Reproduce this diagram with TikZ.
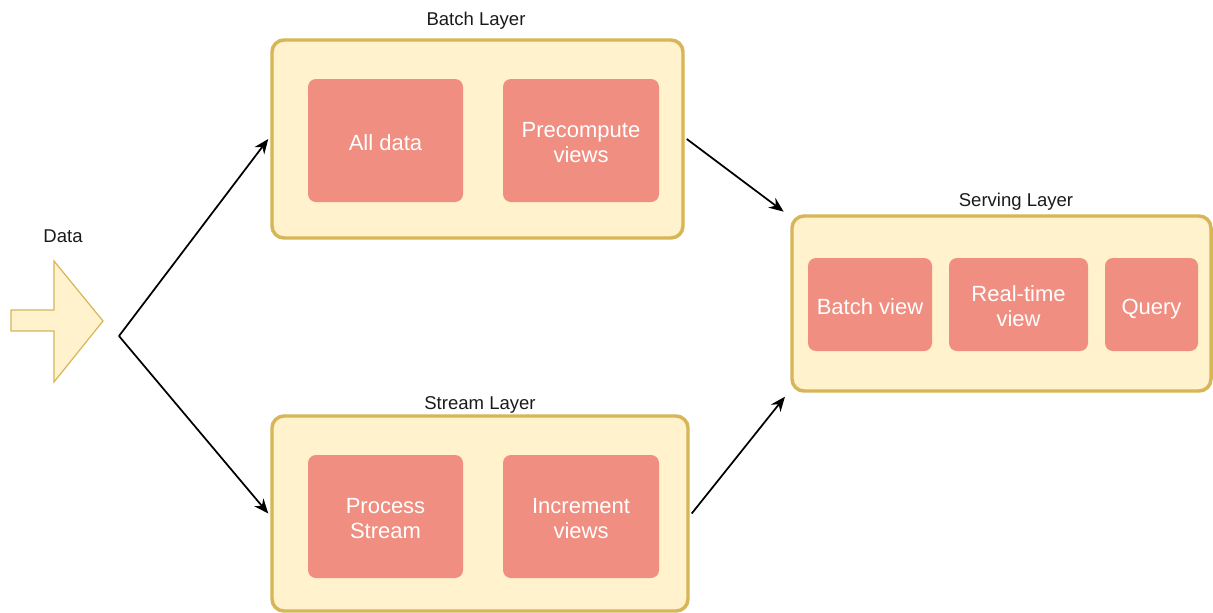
\documentclass[tikz,border=0pt]{standalone}
\usepackage{fontspec}
\setmainfont{Liberation Sans}
\usetikzlibrary{arrows.meta}
\definecolor{layerfill}{HTML}{FFF2CC}
\definecolor{layerdraw}{HTML}{D6B656}
\definecolor{itemfill}{HTML}{F08E81}
\definecolor{labeltxt}{HTML}{1A1A1A}
\newcommand\itemtext[1]{\raisebox{-3.6pt}[\height][\depth]{\begin{tabular}{@{}c@{}}#1\end{tabular}}}
\tikzset{
  layer/.style={draw=layerdraw, fill=layerfill, line width=2.6pt, rounded corners=9pt, inner sep=0pt},
  item/.style={fill=itemfill, rounded corners=6pt, text=white, inner sep=0pt,
    font=\fontsize{16.5pt}{18.5pt}\selectfont},
  lbl/.style={text=labeltxt, font=\fontsize{13.9pt}{16pt}\selectfont, inner sep=0pt},
  conn/.style={line width=1.3pt, -{Stealth[length=11pt, width=9pt]}},
}
\begin{document}
\begin{tikzpicture}[x=0.75pt, y=-0.75pt]
\useasboundingbox (0,0) rectangle (1213,612);
% data arrow
\draw[draw=layerdraw, fill=layerfill, line width=0.9pt]
  (11,310) -- (54,310) -- (54,261) -- (103,321) -- (54,382) -- (54,331) -- (11,331) -- cycle;
\node[lbl] (datalbl) at (63,236) {Data};
\coordinate (branch) at (119,336);
% layers
\node[layer, minimum width=411*0.75pt, minimum height=198*0.75pt] (batch) at (477.5,139) {};
\node[layer, minimum width=416*0.75pt, minimum height=195*0.75pt] (stream) at (480,513.5) {};
\node[layer, minimum width=419*0.75pt, minimum height=175*0.75pt] (serving) at (1001.5,303.5) {};
\node[lbl] (batchlbl) at (476,21) {Batch Layer};
\node[lbl] (streamlbl) at (480,405) {Stream Layer};
\node[lbl] (servinglbl) at (1016,202) {Serving Layer};
% items
\node[item, minimum width=155*0.75pt, minimum height=123*0.75pt] (alldata) at (385.5,140.5) {\itemtext{All data}};
\node[item, minimum width=156*0.75pt, minimum height=123*0.75pt] (precompute) at (581,140.5) {\itemtext{Precompute\\views}};
\node[item, minimum width=155*0.75pt, minimum height=123*0.75pt] (process) at (385.5,516.5) {\itemtext{Process\\Stream}};
\node[item, minimum width=156*0.75pt, minimum height=123*0.75pt] (increment) at (581,516.5) {\itemtext{Increment\\views}};
\node[item, minimum width=124*0.75pt, minimum height=93*0.75pt] (batchview) at (870,304.5) {\itemtext{Batch view}};
\node[item, minimum width=139*0.75pt, minimum height=93*0.75pt] (realtime) at (1018.5,304.5) {\itemtext{Real-time\\view}};
\node[item, minimum width=93*0.75pt, minimum height=93*0.75pt] (query) at (1151.5,304.5) {\itemtext{Query}};
% connectors
\draw[conn] (branch) -- ([xshift=-1.5pt]batch.west);
\draw[conn] (branch) -- ([xshift=-1.5pt]stream.west);
\draw[conn] ([xshift=1.5pt]batch.east) -- ([xshift=-5pt,yshift=2pt]serving.north west);
\draw[conn] ([xshift=1.5pt]stream.east) -- ([xshift=-4pt,yshift=-3pt]serving.south west);
\end{tikzpicture}
\end{document}
